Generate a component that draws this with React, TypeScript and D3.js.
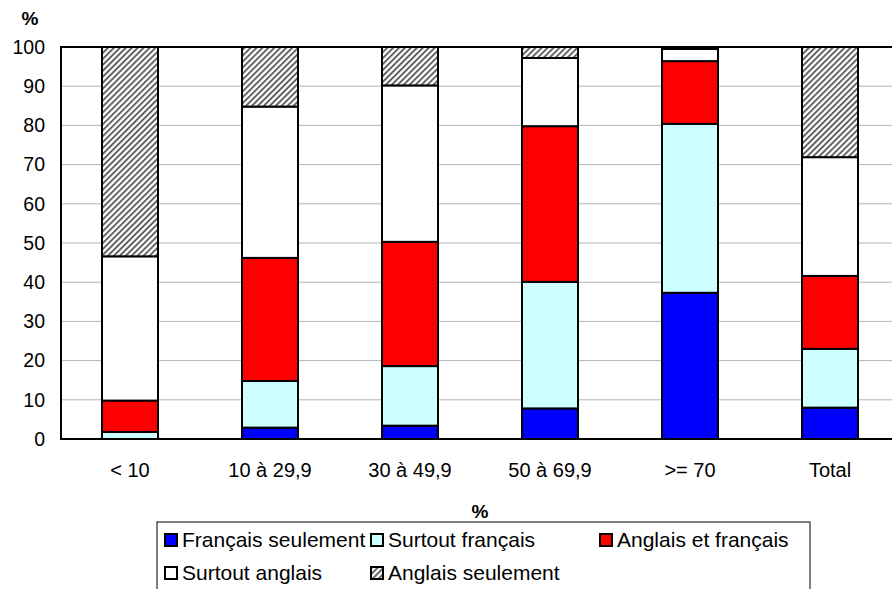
import React from 'react';
import * as d3 from 'd3';

const categories = ['< 10', '10 à 29,9', '30 à 49,9', '50 à 69,9', '>= 70', 'Total'];
const seriesNames = ['Français seulement', 'Surtout français', 'Anglais et français', 'Surtout anglais', 'Anglais seulement'];

const francaisSeulement = [0, 2.9, 3.4, 7.8, 37.3, 8.0];
const surtoutFrancais = [1.8, 11.9, 15.2, 32.3, 43.1, 15.0];
const anglaisEtFrancais = [8.0, 31.4, 31.7, 39.7, 16.0, 18.6];
const surtoutAnglais = [36.8, 38.6, 39.9, 17.4, 3.1, 30.3];
const anglaisSeulement = [53.4, 15.2, 9.8, 2.8, 0.5, 28.1];

const yTicks = [0, 10, 20, 30, 40, 50, 60, 70, 80, 90, 100];
const fills = ['#0000ff', '#ccffff', '#ff0000', '#ffffff', 'url(#hatch)'];

const W = 892;
const H = 589;
const margin = { top: 47, left: 61, bottom: 439, right: 900 };
const font = '"Liberation Sans", Arial, sans-serif';

export default function App() {
  const rows = categories.map((c, i) => ({
    cat: c,
    [seriesNames[0]]: francaisSeulement[i],
    [seriesNames[1]]: surtoutFrancais[i],
    [seriesNames[2]]: anglaisEtFrancais[i],
    [seriesNames[3]]: surtoutAnglais[i],
    [seriesNames[4]]: anglaisSeulement[i],
  }));

  const stacked = d3.stack<any>().keys(seriesNames)(rows);

  const x = d3
    .scaleBand()
    .domain(categories)
    .range([60, 900])
    .paddingInner(0.6)
    .paddingOuter(0.3);

  const y = d3.scaleLinear().domain([0, 100]).range([margin.bottom, margin.top]);

  // legend layout
  const legendItems = [
    { x: 165, y: 540 },
    { x: 371, y: 540 },
    { x: 600, y: 540 },
    { x: 165, y: 573 },
    { x: 371, y: 573 },
  ];

  return (
    <svg width={W} height={H} style={{ position: 'absolute', left: 0, top: 0, fontFamily: font }}>
      <defs>
        <pattern id="hatch" patternUnits="userSpaceOnUse" width="4.2" height="4.2" patternTransform="rotate(45)">
          <rect width="4.2" height="4.2" fill="#ffffff" />
          <line x1="1" y1="0" x2="1" y2="4.2" stroke="#555" strokeWidth="1.8" />
        </pattern>
      </defs>
      <rect width={W} height={H} fill="#fff" />

      {/* gridlines */}
      {yTicks.filter((t) => t > 0 && t < 100).map((t) => (
        <line key={t} x1={margin.left} x2={margin.right} y1={y(t)} y2={y(t)} stroke="#b4b4b4" strokeWidth={1} />
      ))}

      {/* bars */}
      {stacked.map((s, si) => (
        <g key={s.key}>
          {s.map((d, i) => {
            const h = y(d[0]) - y(d[1]);
            if (h <= 0.05) return null;
            return (
              <rect
                key={i}
                x={x(categories[i])}
                y={y(d[1])}
                width={x.bandwidth()}
                height={h}
                fill={fills[si]}
                stroke="#000"
                strokeWidth={2}
              />
            );
          })}
        </g>
      ))}

      {/* frame */}
      <rect
        x={margin.left}
        y={margin.top}
        width={margin.right - margin.left}
        height={margin.bottom - margin.top}
        fill="none"
        stroke="#000"
        strokeWidth={2}
      />

      {/* y tick labels */}
      {yTicks.map((t) => (
        <text key={t} x={45} y={y(t)} dy="0.35em" textAnchor="end" fontSize={19.5} fill="#000">
          {t}
        </text>
      ))}

      {/* x tick labels */}
      {categories.map((c) => (
        <text key={c} x={(x(c) as number) + x.bandwidth() / 2} y={477} textAnchor="middle" fontSize={20} fill="#000">
          {c}
        </text>
      ))}

      {/* axis titles */}
      <text x={30} y={25} textAnchor="middle" fontSize={19} fontWeight="bold">%</text>
      <text x={480} y={518} textAnchor="middle" fontSize={19} fontWeight="bold">%</text>

      {/* legend */}
      <rect x={157} y={522} width={653} height={80} fill="#fff" stroke="#000" strokeWidth={1} />
      {seriesNames.map((name, i) => (
        <g key={name} transform={`translate(${legendItems[i].x},${legendItems[i].y})`}>
          <rect x={0} y={-6} width={12} height={12} fill={fills[i]} stroke="#000" strokeWidth={2} />
          <text x={17} y={0} dy="0.35em" fontSize={21} fill="#000">
            {name}
          </text>
        </g>
      ))}
    </svg>
  );
}
